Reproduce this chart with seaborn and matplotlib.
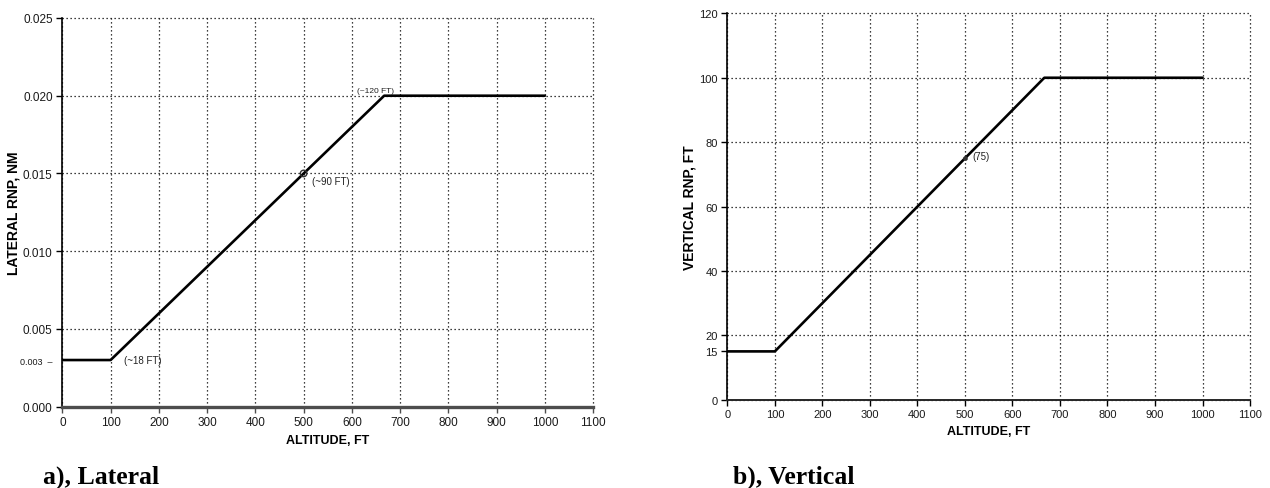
import matplotlib
matplotlib.use("Agg")
import matplotlib.pyplot as plt
import seaborn as sns
import pandas as pd

# ---- data ----
alt_pts = [0, 100, 667, 1000]
lateral_rnp = [0.003, 0.003, 0.020, 0.020]
vertical_rnp = [15, 15, 100, 100]
marker_alt = [500]
lateral_marker = [0.015]
vertical_marker = [75]

x_ticks = [0, 100, 200, 300, 400, 500, 600, 700, 800, 900, 1000, 1100]
lat_ticks = [0.000, 0.003, 0.005, 0.010, 0.015, 0.020, 0.025]
lat_tick_labels = ["0.000", "0.003  \u2013", "0.005", "0.010", "0.015", "0.020", "0.025"]
vert_ticks = [0, 15, 20, 40, 60, 80, 100, 120]
vert_tick_labels = ["0", "15", "20", "40", "60", "80", "100", "120"]

sns.set_theme(style="ticks")
plt.rcParams['font.family'] = ['Liberation Sans Narrow', 'Liberation Sans', 'DejaVu Sans']
plt.rcParams['axes.linewidth'] = 1.2
plt.rcParams['text.color'] = 'black'
plt.rcParams['axes.labelcolor'] = 'black'

fig = plt.figure(figsize=(12.7, 4.89), dpi=100)
ax1 = fig.add_axes([0.0491, 0.1663, 0.4179, 0.7949])
ax2 = fig.add_axes([0.5727, 0.1806, 0.4116, 0.7900])

df_lat = pd.DataFrame({"alt": alt_pts, "rnp": lateral_rnp})
df_vert = pd.DataFrame({"alt": alt_pts, "rnp": vertical_rnp})

grid_kw = dict(color="black", linestyle=(0, (1, 2.2)), linewidth=0.9)

def style_axes(ax, yticks, ylabels, ylim, tick_fs, hide_grid_idx):
    ax.set_xlim(0, 1100)
    ax.set_ylim(*ylim)
    ax.set_xticks(x_ticks)
    ax.set_xticklabels([str(t) for t in x_ticks], fontsize=tick_fs)
    ax.set_yticks(yticks)
    ax.set_yticklabels(ylabels, fontsize=tick_fs)
    ax.grid(True, **grid_kw)
    ax.set_axisbelow(True)
    for g in ax.get_xgridlines() + ax.get_ygridlines():
        g.set_clip_on(False)
    ax.yaxis.get_gridlines()[hide_grid_idx].set_visible(False)
    for s in ["top", "right"]:
        ax.spines[s].set_visible(False)
    ax.spines["left"].set_color("black")
    ax.tick_params(axis="both", direction="out", length=4, width=1, colors="black",
                   labelcolor="#1a1a1a", pad=3)

# Lateral
sns.lineplot(data=df_lat, x="alt", y="rnp", ax=ax1, color="black", linewidth=1.9)
sns.scatterplot(x=marker_alt, y=lateral_marker, ax=ax1, s=22, facecolor="none",
                edgecolor="#333333", linewidth=1.0, zorder=5)
style_axes(ax1, lat_ticks, lat_tick_labels, (0, 0.025), 8.5, 1)
ax1.spines["bottom"].set_color("#4d4d4d")
ax1.spines["bottom"].set_linewidth(2.4)
ax1.tick_params(axis="x", colors="#4d4d4d", labelcolor="#1a1a1a")
ax1.get_yticklabels()[1].set_fontsize(6.5)
ax1.yaxis.get_major_ticks()[1].tick1line.set_visible(False)
ax1.set_xlabel("ALTITUDE, FT", fontsize=9, fontweight="bold", labelpad=4)
ax1.set_ylabel("LATERAL RNP, NM", fontsize=10, fontweight="bold",
               family=['Liberation Sans', 'DejaVu Sans'])
ax1.yaxis.set_label_coords(-0.078, 0.5)
ax1.text(128, 0.0030, "(~18 FT)", fontsize=7, color="#222222", va="center", ha="left")
ax1.text(517, 0.01452, "(~90 FT)", fontsize=7, color="#222222", va="center", ha="left")
ax1.text(687, 0.0201, "(~120 FT)", fontsize=6, color="#222222", va="bottom", ha="right")

# Vertical
sns.lineplot(data=df_vert, x="alt", y="rnp", ax=ax2, color="black", linewidth=1.9)
sns.scatterplot(x=marker_alt, y=vertical_marker, ax=ax2, s=10, color="#333333",
                edgecolor="#333333", zorder=5)
style_axes(ax2, vert_ticks, vert_tick_labels, (0, 120), 8, 1)
ax2.spines["bottom"].set_linewidth(1.4)
ax2.set_xlabel("ALTITUDE, FT", fontsize=9, fontweight="bold", labelpad=4)
ax2.set_ylabel("VERTICAL RNP, FT", fontsize=10, fontweight="bold",
               family=['Liberation Sans', 'DejaVu Sans'])
ax2.yaxis.set_label_coords(-0.059, 0.5)
ax2.text(515, 75.7, "(75)", fontsize=7, color="#222222", va="center", ha="left")

fig.text(43 / 1270, 1 - 477 / 489, "a), Lateral", fontsize=18.5, fontweight="bold",
         family=['Liberation Serif', 'DejaVu Serif'], va="center", ha="left", color="black")
fig.text(733 / 1270, 1 - 477 / 489, "b), Vertical", fontsize=18.5, fontweight="bold",
         family=['Liberation Serif', 'DejaVu Serif'], va="center", ha="left", color="black")

fig.savefig("out.png", dpi=100)
